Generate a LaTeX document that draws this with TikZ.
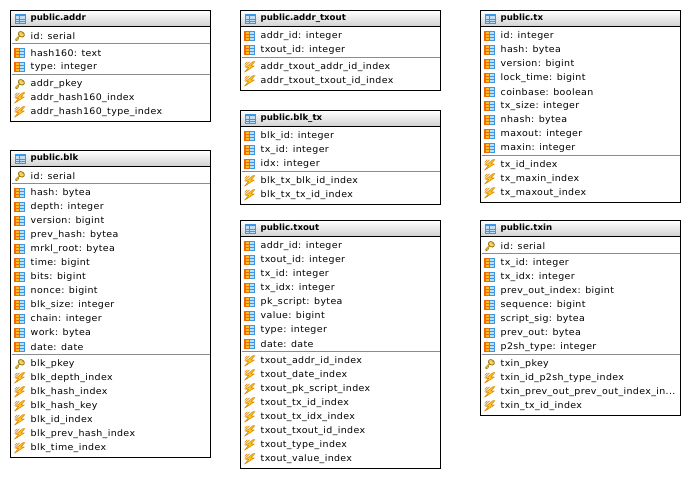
\documentclass[tikz,border=0pt]{standalone}
\usepackage{fontspec}
\setmainfont{DejaVu Sans}
\newfontfamily\rowfont[FakeStretch=1.05,LetterSpace=4]{DejaVu Sans}
\definecolor{lineg}{HTML}{8C8C8C}
\definecolor{bluei}{HTML}{3F96E0}
\definecolor{bluel}{HTML}{BFE0F8}
\definecolor{orangei}{HTML}{F06808}
\definecolor{yellowi}{HTML}{FFC020}
\definecolor{golde}{HTML}{A07C10}
\definecolor{goldf}{HTML}{F8D870}
\definecolor{boltf}{HTML}{F8D020}
\definecolor{bolte}{HTML}{E08A10}
\tikzset{
  tablebox/.style={draw=black,line width=1pt,fill=white},
  headbar/.style={top color=white,bottom color=black!18,draw=black,line width=1pt},
  title/.style={anchor=west,inner sep=0pt,font=\fontsize{8.6}{10}\selectfont\bfseries},
  rowtext/.style={anchor=west,inner sep=0pt,font=\fontsize{9}{10}\selectfont\rowfont},
  sepline/.style={draw=lineg,line width=1pt},
  pics/tblicon/.style={code={
    \fill[bluel] (-5,-4.5) rectangle (5,4.5);
    \fill[bluei] (-5,-4.5) rectangle (5,-2);
    \draw[bluei,line width=.9pt] (-5,-4.5) rectangle (5,4.5);
    \draw[bluei,line width=.7pt] (-5,.4) -- (5,.4) (-5,2.6) -- (5,2.6) (-.6,-4.5) -- (-.6,4.5);
  }},
  pics/colicon/.style={code={
    \fill[bluel] (-.4,-4.5) rectangle (4.5,4.5);
    \fill[yellowi] (-4.5,-4.5) rectangle (-.4,4.5);
    \draw[bluei,line width=1pt] (-.4,-4.5) rectangle (4.5,4.5);
    \draw[bluei,line width=.8pt] (-.4,-1.5) -- (4.5,-1.5) (-.4,1.5) -- (4.5,1.5);
    \draw[orangei,line width=1.1pt] (-4.5,-4.5) rectangle (-.4,4.5);
    \draw[orangei,line width=.8pt] (-4.5,-1.5) -- (-.4,-1.5) (-4.5,1.5) -- (-.4,1.5);
  }},
  pics/keyicon/.style={code={
    \draw[golde,line width=1.4pt,line cap=round] (-3.8,4) -- (.4,-.4) (-3.6,3.8) -- (-2.5,4.7) (-2.2,2.3) -- (-1.2,3.2);
    \draw[goldf,line width=.5pt,line cap=round] (-3.8,4) -- (.4,-.4);
    \fill[goldf,draw=golde,line width=.9pt] (1.9,-1.5) circle[x radius=3.2,y radius=2.5,rotate=-35];
    \fill[golde] (2.6,-2) circle[radius=.6];
  }},
  pics/bolticon/.style={code={
    \fill[boltf,draw=bolte,line width=.6pt,line join=round] (3.6,-5.2) -- (-3.8,.6) -- (-.8,.6) -- (-5,5.4) -- (4.8,-.8) -- (1.2,-.8) -- (5.4,-5.2) -- cycle;
    \draw[bolte,line width=.7pt] (-2.2,-5) -- (-4.8,-2.4) (0,-5) -- (-4.8,-.2);
  }},
}
\def\sepk{s}
\def\tdots{...}
% name, x, top, title, row list (kind/text); kind: icon pic name, s = separator
\newcommand{\dbtable}[5]{%
  \coordinate (#1-nw) at (#2,#3);
  \coordinate (#1-he) at (#2+200,#3+16);
  \pgfmathsetmacro\rowyy{#3+25.3}\xdef\rowyy{\rowyy}%
  \foreach \k/\t [count=\n] in {#5}{%
    \ifx\k\sepk
      \pgfmathsetmacro\sy{\rowyy-6.5}%
      \draw[sepline] (#2+1,\sy) -- (#2+199.5,\sy);
      \pgfmathsetmacro\ny{\rowyy+3}\xdef\rowyy{\ny}%
    \else
      \pic at (#2+9,\rowyy) {\k};
      \node[rowtext] (#1-r\n) at (#2+20,\rowyy) {\t};
      \pgfmathsetmacro\ny{\rowyy+14}\xdef\rowyy{\ny}%
    \fi
  }%
  \pgfmathsetmacro\boty{\rowyy-4.2}%
  \coordinate (#1-se) at (#2+200,\boty);
  \draw[tablebox,fill=none] (#1-nw) rectangle (#1-se);
  \draw[headbar] (#1-nw) rectangle (#1-he);
  \pic at (#2+9.5,#3+8) {tblicon};
  \node[title] (#1-title) at (#2+20,#3+8) {#4};
}
\begin{document}
\begin{tikzpicture}[x=1pt,y=-1pt]
\useasboundingbox (0,0) rectangle (690,478);
\dbtable{addr}{10.5}{10.5}{public.addr}{keyicon/id: serial,s/,colicon/hash160: text,colicon/type: integer,s/,keyicon/addr\_pkey,bolticon/addr\_hash160\_index,bolticon/addr\_hash160\_type\_index}
\dbtable{blk}{10.5}{150.5}{public.blk}{keyicon/id: serial,s/,colicon/hash: bytea,colicon/depth: integer,colicon/version: bigint,colicon/prev\_hash: bytea,colicon/mrkl\_root: bytea,colicon/time: bigint,colicon/bits: bigint,colicon/nonce: bigint,colicon/blk\_size: integer,colicon/chain: integer,colicon/work: bytea,colicon/date: date,s/,keyicon/blk\_pkey,bolticon/blk\_depth\_index,bolticon/blk\_hash\_index,bolticon/blk\_hash\_key,bolticon/blk\_id\_index,bolticon/blk\_prev\_hash\_index,bolticon/blk\_time\_index}
\dbtable{addrtxout}{240.5}{10.5}{public.addr\_txout}{colicon/addr\_id: integer,colicon/txout\_id: integer,s/,bolticon/addr\_txout\_addr\_id\_index,bolticon/addr\_txout\_txout\_id\_index}
\dbtable{blktx}{240.5}{110.5}{public.blk\_tx}{colicon/blk\_id: integer,colicon/tx\_id: integer,colicon/idx: integer,s/,bolticon/blk\_tx\_blk\_id\_index,bolticon/blk\_tx\_tx\_id\_index}
\dbtable{txout}{240.5}{220.5}{public.txout}{colicon/addr\_id: integer,colicon/txout\_id: integer,colicon/tx\_id: integer,colicon/tx\_idx: integer,colicon/pk\_script: bytea,colicon/value: bigint,colicon/type: integer,colicon/date: date,s/,bolticon/txout\_addr\_id\_index,bolticon/txout\_date\_index,bolticon/txout\_pk\_script\_index,bolticon/txout\_tx\_id\_index,bolticon/txout\_tx\_idx\_index,bolticon/txout\_txout\_id\_index,bolticon/txout\_type\_index,bolticon/txout\_value\_index}
\dbtable{tx}{480.5}{10.5}{public.tx}{colicon/id: integer,colicon/hash: bytea,colicon/version: bigint,colicon/lock\_time: bigint,colicon/coinbase: boolean,colicon/tx\_size: integer,colicon/nhash: bytea,colicon/maxout: integer,colicon/maxin: integer,s/,bolticon/tx\_id\_index,bolticon/tx\_maxin\_index,bolticon/tx\_maxout\_index}
\dbtable{txin}{480.5}{220.5}{public.txin}{keyicon/id: serial,s/,colicon/tx\_id: integer,colicon/tx\_idx: integer,colicon/prev\_out\_index: bigint,colicon/sequence: bigint,colicon/script\_sig: bytea,colicon/prev\_out: bytea,colicon/p2sh\_type: integer,s/,keyicon/txin\_pkey,bolticon/txin\_id\_p2sh\_type\_index,bolticon/txin\_prev\_out\_prev\_out\_index\_in\tdots,bolticon/txin\_tx\_id\_index}
\end{tikzpicture}
\end{document}
